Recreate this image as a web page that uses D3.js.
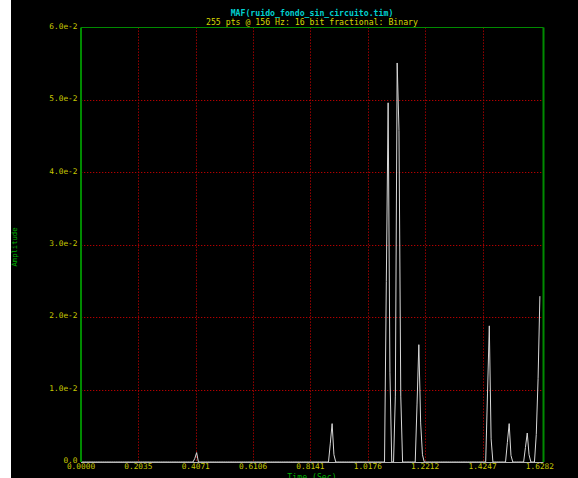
<!DOCTYPE html>
<html><head><meta charset="utf-8">
<script src="https://cdn.jsdelivr.net/npm/d3@7"></script>
<style>
html,body{margin:0;padding:0;background:#fff;}
svg{display:block;}
text{font-family:"DejaVu Sans Mono","Liberation Mono",monospace;}
</style></head>
<body>
<svg id="c" width="578" height="478"></svg>
<script>
// ---- data ----
const titleLine1 = "MAF(ruido_fondo_sin_circuito.tim)";
const titleLine2 = "255 pts @ 156 Hz: 16 bit fractional: Binary";
const nPoints = 255;
const sampleRate = 156;
const spikeIdx = [63, 64, 138, 139, 140, 169, 170, 171, 174, 175, 176, 177, 186, 187, 188, 189, 225, 226, 227, 236, 237, 238, 246, 247, 248, 252, 253, 254];
const spikeVal = [0.0005, 0.0013, 0.0026, 0.0053, 0.0010, 0.0249, 0.0496, 0.0124, 0.0091, 0.0551, 0.0458, 0.0091, 0.0080, 0.0162, 0.0054, 0.0010, 0.0094, 0.0188, 0.0032, 0.0027, 0.0053, 0.0009, 0.0020, 0.0040, 0.0010, 0.0038, 0.0115, 0.0229];
const xTickLabels = ["0.0000", "0.2035", "0.4071", "0.6106", "0.8141", "1.0176", "1.2212", "1.4247", "1.6282"];
const yTickValues = [0, 0.01, 0.02, 0.03, 0.04, 0.05, 0.06];
const yTickLabels = ["0.0", "1.0e-2", "2.0e-2", "3.0e-2", "4.0e-2", "5.0e-2", "6.0e-2"];

// build full series
const values = new Array(nPoints).fill(0);
spikeIdx.forEach((k, j) => { values[k] = spikeVal[j]; });
const series = values.map((v, i) => ({t: i / sampleRate, v}));

const svg = d3.select("#c");
const L = 81, R = 543.5, T = 27.5, B = 462;
const x = d3.scaleLinear().domain([0, 256 / sampleRate]).range([L, R]);
const y = d3.scaleLinear().domain([0, 0.06]).range([B, T]);

svg.append("rect").attr("x", 11).attr("y", 0).attr("width", 567).attr("height", 478).attr("fill", "#000");

// titles
svg.append("text").attr("x", 312).attr("y", 15.5).attr("text-anchor", "middle")
  .attr("font-size", "8.2px").attr("font-weight", "bold").attr("fill", "#00d0d0").text(titleLine1);
svg.append("text").attr("x", 312).attr("y", 24.5).attr("text-anchor", "middle")
  .attr("font-size", "8.2px").attr("fill", "#d8d800").text(titleLine2);

// grids
const gridColor = "#b00000";
const xTickVals = xTickLabels.map(Number);
svg.append("g").selectAll("line").data(xTickVals.slice(1, 8)).join("line")
  .attr("x1", d => Math.round(x(d)) + 0.5).attr("x2", d => Math.round(x(d)) + 0.5)
  .attr("y1", T).attr("y2", B)
  .attr("stroke", gridColor).attr("stroke-width", 1).attr("stroke-dasharray", "1.3,1.7");
svg.append("g").selectAll("line").data(yTickValues.slice(1, 6)).join("line")
  .attr("x1", L).attr("x2", R)
  .attr("y1", d => Math.round(y(d)) + 0.5).attr("y2", d => Math.round(y(d)) + 0.5)
  .attr("stroke", gridColor).attr("stroke-width", 1).attr("stroke-dasharray", "1.3,1.7");

// data line
const line = d3.line().x(d => x(d.t)).y(d => y(d.v));
svg.append("path").datum(series).attr("d", line)
  .attr("fill", "none").attr("stroke", "#d8d8d8").attr("stroke-width", 1);

// frame
svg.append("line").attr("x1", L).attr("x2", R).attr("y1", B + 0.5).attr("y2", B + 0.5)
  .attr("stroke", "#b8b8b8").attr("stroke-width", 1);
svg.append("line").attr("x1", L).attr("x2", L).attr("y1", T).attr("y2", B)
  .attr("stroke", "#008a00").attr("stroke-width", 2);
svg.append("line").attr("x1", R).attr("x2", R).attr("y1", T).attr("y2", B)
  .attr("stroke", "#008a00").attr("stroke-width", 2);
svg.append("line").attr("x1", L).attr("x2", R).attr("y1", T).attr("y2", T)
  .attr("stroke", "#008a00").attr("stroke-width", 1);

// y tick labels
svg.append("g").selectAll("text").data(yTickValues).join("text")
  .attr("x", 77.5).attr("y", d => y(d) + 1.2).attr("text-anchor", "end")
  .attr("font-size", "7.8px").attr("fill", "#c8c800")
  .text((d, i) => yTickLabels[i]);

// x tick labels
svg.append("g").selectAll("text").data(xTickVals).join("text")
  .attr("x", d => x(d)).attr("y", B + 6.5).attr("text-anchor", "middle")
  .attr("font-size", "7.8px").attr("fill", "#c8c800")
  .text((d, i) => xTickLabels[i]);

// axis titles
svg.append("text").attr("transform", "translate(16.5,247) rotate(-90)").attr("text-anchor", "middle")
  .attr("font-size", "7.2px").attr("fill", "#00b000").text("Amplitude");
svg.append("text").attr("x", 312).attr("y", 480).attr("text-anchor", "middle")
  .attr("font-size", "8.2px").attr("fill", "#00b000").text("Time (Sec)");
</script>
</body></html>
